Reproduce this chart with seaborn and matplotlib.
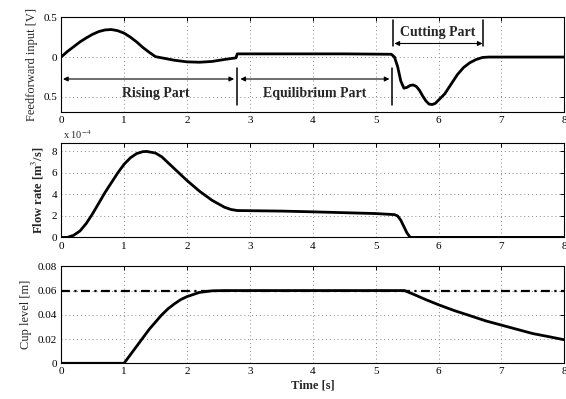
import matplotlib
matplotlib.use("Agg")
import matplotlib.pyplot as plt
import seaborn as sns
import pandas as pd

# ---------------- data ----------------
t_ff = [0, 0.1, 0.2, 0.3, 0.4, 0.5, 0.6, 0.7, 0.8, 0.9, 1.0, 1.1, 1.2, 1.3, 1.4, 1.5,
        1.6, 1.8, 2.0, 2.2, 2.4, 2.6, 2.78, 2.8, 3.5, 4.5, 5.25, 5.3, 5.35, 5.4, 5.45,
        5.5, 5.55, 5.6, 5.65, 5.7, 5.75, 5.8, 5.85, 5.9, 5.95, 6.0, 6.1, 6.2, 6.3, 6.4,
        6.5, 6.6, 6.7, 6.8, 7.0, 8.0]
u_ff = [0, 0.07, 0.13, 0.19, 0.24, 0.285, 0.32, 0.34, 0.345, 0.33, 0.30, 0.25, 0.19,
        0.12, 0.06, 0.005, -0.01, -0.04, -0.06, -0.065, -0.055, -0.03, -0.01, 0.04, 0.04,
        0.04, 0.035, 0.0, -0.12, -0.3, -0.39, -0.38, -0.355, -0.35, -0.37, -0.42, -0.49,
        -0.55, -0.59, -0.595, -0.58, -0.54, -0.46, -0.34, -0.22, -0.13, -0.07, -0.03,
        -0.005, 0.0, 0.0, 0.0]

t_flow = [0, 0.1, 0.2, 0.3, 0.4, 0.5, 0.6, 0.7, 0.8, 0.9, 1.0, 1.1, 1.2, 1.3, 1.36, 1.5,
          1.6, 1.8, 2.0, 2.2, 2.4, 2.6, 2.7, 2.8, 3.5, 4.0, 4.5, 5.0, 5.3, 5.35, 5.4, 5.45,
          5.5, 5.55, 6.0, 8.0]
q_flow = [0, 0, 0.2, 0.6, 1.3, 2.2, 3.2, 4.2, 5.1, 6.0, 6.8, 7.4, 7.8, 7.98, 8.0, 7.85,
          7.5, 6.4, 5.3, 4.3, 3.45, 2.8, 2.6, 2.5, 2.45, 2.38, 2.3, 2.22, 2.12, 2.0, 1.6,
          1.0, 0.4, 0, 0, 0]  # x 1e-4 m^3/s

t_cup = [0, 1.0, 1.1, 1.2, 1.3, 1.4, 1.5, 1.6, 1.7, 1.8, 1.9, 2.0, 2.2, 2.4, 2.6, 2.8,
         5.46, 5.6, 5.8, 6.0, 6.25, 6.5, 6.75, 7.0, 7.25, 7.5, 7.75, 8.0]
h_cup = [0, 0, 0.007, 0.014, 0.021, 0.028, 0.034, 0.040, 0.045, 0.049, 0.0525, 0.055,
         0.0585, 0.0598, 0.060, 0.060, 0.060, 0.057, 0.0525, 0.0483, 0.0435, 0.0393,
         0.035, 0.0315, 0.028, 0.0245, 0.022, 0.0194]
h_ref = 0.06

x_ticks = [0, 1, 2, 3, 4, 5, 6, 7, 8]
ff_ticks = [-0.5, 0, 0.5]
ff_ticklabels = ["0.5", "0", "0.5"]
flow_ticks = [0, 2, 4, 6, 8]
cup_ticks = [0, 0.02, 0.04, 0.06, 0.08]
cup_ticklabels = ["0", "0.02", "0.04", "0.06", "0.08"]

# phase annotations
phase_names = ["Rising Part", "Equilibrium Part", "Cutting Part"]
phase_spans = [(0.03, 2.75), (2.85, 5.22), (5.3, 6.7)]
phase_arrow_y = [-0.275, -0.275, 0.17]
phase_text_xy = [(1.5, -0.46), (4.03, -0.46), (5.98, 0.31)]
divider_x = [2.8, 5.26]
divider_y = (-0.14, -0.6)
cut_divider_x = [5.28, 6.7]
cut_divider_y = (0.14, 0.46)

# ---------------- style ----------------
sns.set_style("white")
plt.rcParams["font.family"] = ["Liberation Serif", "DejaVu Serif"]
plt.rcParams["mathtext.fontset"] = "stix"

fig = plt.figure(figsize=(5.66, 3.99), dpi=100)
L, W = 0.108, 0.889
ax1 = fig.add_axes([L, 0.719, W, 0.238])
ax2 = fig.add_axes([L, 0.405, W, 0.237])
ax3 = fig.add_axes([L, 0.0895, W, 0.243])

df_ff = pd.DataFrame({"t": t_ff, "u": u_ff})
df_flow = pd.DataFrame({"t": t_flow, "q": q_flow})
df_cup = pd.DataFrame({"t": t_cup, "h": h_cup})

sns.lineplot(data=df_ff, x="t", y="u", ax=ax1, color="black", lw=2, sort=False)
sns.lineplot(data=df_flow, x="t", y="q", ax=ax2, color="black", lw=2, sort=False)
ax3.axhline(h_ref, color="black", lw=1.6, linestyle=(0, (4, 2, 1, 2)), zorder=3)
sns.lineplot(data=df_cup, x="t", y="h", ax=ax3, color="black", lw=2, sort=False)

for ax in (ax1, ax2, ax3):
    ax.set_xlim(0, 8)
    ax.set_xticks(x_ticks)
    ax.set_xticklabels([str(v) for v in x_ticks])
    ax.grid(True, linestyle=(0, (1, 3)), color="#888888", lw=0.7)
    ax.tick_params(direction="in", length=3, width=0.7, top=True, right=True,
                   labelsize=8, pad=3, colors="black")
    for s in ax.spines.values():
        s.set_color("black")
        s.set_linewidth(0.8)
    ax.set_xlabel("")
    ax.set_ylabel("")

ax1.set_ylim(-0.69, 0.5)
ax1.set_yticks(ff_ticks)
ax1.set_yticklabels(ff_ticklabels)
ax1.set_ylabel("Feedforward input [V]", fontsize=9)

ax2.set_ylim(0, 8.8)
ax2.set_yticks(flow_ticks)
ax2.set_yticklabels([str(v) for v in flow_ticks])
ax2.set_ylabel(r"Flow rate [m$^3$/s]", fontsize=9, fontweight="bold")
ax2.text(0.003, 1.015, r"x 10$^{-4}$", transform=ax2.transAxes, fontsize=7.5,
         ha="left", va="bottom")

ax3.set_ylim(0, 0.08)
ax3.set_yticks(cup_ticks)
ax3.set_yticklabels(cup_ticklabels)
ax3.set_ylabel("Cup level [m]", fontsize=9)
ax3.set_xlabel("Time [s]", fontsize=9, fontweight="bold", labelpad=2)

# annotations on the top panel
for name, (x0, x1), ya, (tx, ty) in zip(phase_names, phase_spans, phase_arrow_y, phase_text_xy):
    ax1.annotate("", xy=(x0, ya), xytext=(x1, ya),
                 arrowprops=dict(arrowstyle="<|-|>", color="black", lw=0.8,
                                 mutation_scale=7, shrinkA=0, shrinkB=0))
    ax1.text(tx, ty, name, ha="center", va="center", fontsize=10, fontweight="bold")
for xd in divider_x:
    ax1.plot([xd, xd], list(divider_y), color="black", lw=1.1)
for xd in cut_divider_x:
    ax1.plot([xd, xd], list(cut_divider_y), color="black", lw=1.1)

fig.savefig("out.png", dpi=100)
